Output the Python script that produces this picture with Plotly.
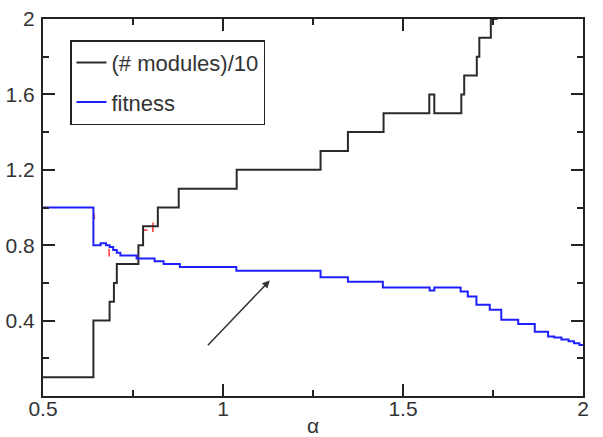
import plotly.graph_objects as go

# (# modules)/10 step function: change points
mod_alpha = [0.5, 0.640, 0.685, 0.697, 0.705, 0.765, 0.778, 0.819, 0.877, 1.038, 1.271,
             1.347, 1.446, 1.573, 1.587, 1.662, 1.670, 1.705, 1.712, 1.744, 1.760, 1.80, 2.0]
mod_vals = [0.1, 0.4, 0.5, 0.6, 0.7, 0.8, 0.9, 1.0, 1.1, 1.2, 1.3,
            1.4, 1.5, 1.6, 1.5, 1.6, 1.7, 1.8, 1.9, 2.0, 2.2, 2.5, 2.5]

# fitness step function: change points
fit_alpha = [0.5, 0.640, 0.660, 0.675, 0.685, 0.695, 0.705, 0.715, 0.760, 0.810, 0.835,
             0.880, 1.037, 1.271, 1.347, 1.444, 1.574, 1.587, 1.660, 1.680, 1.704, 1.741,
             1.773, 1.820, 1.866, 1.903, 1.920, 1.940, 1.960, 1.975, 1.990, 2.0]
fit_vals = [1.0, 0.80, 0.81, 0.80, 0.79, 0.775, 0.76, 0.745, 0.73, 0.715, 0.70,
            0.685, 0.665, 0.63, 0.606, 0.576, 0.56, 0.576, 0.555, 0.528, 0.484, 0.457,
            0.404, 0.382, 0.341, 0.315, 0.31, 0.30, 0.29, 0.28, 0.27, 0.265]

# faint red residue of a hidden series
red_alpha = [0.641, 0.643, None, 0.683, 0.684, None, 0.778, 0.790, None, 0.805, 0.806]
red_vals = [0.97, 0.94, None, 0.78, 0.74, None, 0.88, 0.88, None, 0.87, 0.92]

x_ticks = [0.5, 1, 1.5, 2]
x_tick_labels = ["0.5", "1", "1.5", "2"]
y_ticks = [0.4, 0.8, 1.2, 1.6, 2]
y_tick_labels = ["0.4", "0.8", "1.2", "1.6", "2"]
x_minor = [0.75, 1.25, 1.75]
y_minor = [0.2, 0.6, 1.0, 1.4, 1.8]

arrow_tail = (0.954, 0.261)
arrow_head = (1.13, 0.613)

FONT = "Liberation Sans, Arial"

fig = go.Figure()
fig.add_trace(go.Scatter(x=red_alpha, y=red_vals, mode="lines", showlegend=False,
                         line=dict(color="#ff3030", width=1.5), connectgaps=False, hoverinfo="skip"))
fig.add_trace(go.Scatter(x=mod_alpha, y=mod_vals, mode="lines", name="(# modules)/10",
                         line=dict(color="#2a2a2a", width=2, shape="hv"), legendgroup="a"))
fig.add_trace(go.Scatter(x=fit_alpha, y=fit_vals, mode="lines", name="fitness",
                         line=dict(color="#2020ff", width=2, shape="hv"), legendgroup="b"))

axis_common = dict(showgrid=False, zeroline=False, showline=True, linecolor="#222",
                   linewidth=2, mirror="ticks", ticks="inside", tickcolor="#222",
                   ticklen=12, tickwidth=1.5, automargin=False,
                   tickfont=dict(family=FONT, size=21, color="#333"))

fig.update_xaxes(range=[0.5, 2], tickvals=x_ticks, ticktext=x_tick_labels,
                 ticklabelstandoff=-7,
                 minor=dict(tickvals=x_minor, ticklen=6, ticks="inside", tickcolor="#222", tickwidth=1.5),
                 title=dict(text="α", font=dict(family=FONT, size=21, color="#333"),
                            standoff=4),
                 **axis_common)
fig.update_yaxes(range=[0, 2], tickvals=y_ticks, ticktext=y_tick_labels,
                 ticklabelstandoff=2,
                 minor=dict(tickvals=y_minor, ticklen=6, ticks="inside", tickcolor="#222", tickwidth=1.5),
                 **axis_common)

fig.add_annotation(x=arrow_head[0], y=arrow_head[1], ax=arrow_tail[0], ay=arrow_tail[1],
                   xref="x", yref="y", axref="x", ayref="y", text="", showarrow=True,
                   arrowhead=2, arrowsize=1, arrowwidth=1.5, arrowcolor="#333")

fig.update_layout(
    width=603, height=437,
    margin=dict(l=43, r=20, t=19, b=41, autoexpand=False),
    paper_bgcolor="white", plot_bgcolor="white",
    showlegend=True,
    legend=dict(x=0.05, y=0.944, xanchor="left", yanchor="top",
                bordercolor="#222", borderwidth=1.5, bgcolor="white",
                font=dict(family=FONT, size=22, color="#333"),
                tracegroupgap=8, traceorder="grouped"),
)

fig.write_html("out.html")
